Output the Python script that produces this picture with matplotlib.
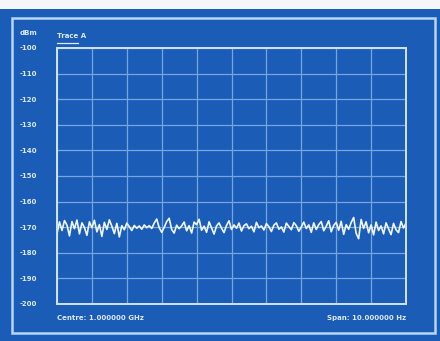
#!/usr/bin/env python3
# -*- coding: utf-8 -*-

"""
Ecran d'analyseur de spectre : trace de bruit autour de -170 dBm.
"""

import numpy as np
import matplotlib
matplotlib.use("Agg")
import matplotlib.pyplot as plt
from matplotlib.patches import Rectangle

# Donnees
niveaux = [
    -172.5, -167.9, -171.3, -167.4, -169.2, -173.4, -167.8, -170.6, -167.2, -172.6,
    -168.3, -170.1, -173.2, -167.9, -170.2, -167.3, -171.8, -169.0, -173.6, -168.1,
    -170.9, -167.1, -169.6, -172.5, -168.5, -173.8, -169.4, -171.0, -168.4, -169.8,
    -171.3, -169.3, -170.4, -169.5, -170.8, -169.1, -170.2, -169.4, -170.5, -168.4,
    -166.8, -170.2, -172.0, -170.1, -167.8, -166.5, -170.9, -172.3, -169.2, -170.6,
    -169.5, -168.0, -171.4, -169.4, -172.3, -168.0, -169.0, -166.9, -171.2, -169.6,
    -172.0, -167.9, -170.3, -172.7, -169.5, -168.3, -170.4, -172.1, -169.3, -167.5,
    -170.9, -169.1, -170.4, -168.4, -171.5, -169.4, -168.7, -170.6, -169.6, -171.8,
    -168.1, -170.2, -169.5, -171.1, -168.6, -169.8, -171.7, -169.2, -168.3, -170.8,
    -169.9, -171.9, -168.4, -169.7, -171.0, -168.2, -169.4, -171.6, -169.9, -168.0,
    -170.5, -169.1, -172.0, -168.3, -170.9, -169.0, -167.8, -171.4, -169.6, -167.5,
    -171.8, -169.3, -168.1, -171.2, -167.7, -172.8, -169.0, -170.8, -168.2, -166.2,
    -172.4, -174.5, -167.0, -170.5, -167.9, -172.2, -169.1, -173.0, -168.0, -171.3,
    -169.5, -172.6, -168.3, -170.6, -172.9, -168.5, -171.0, -172.1, -167.8, -170.3,
    -168.4,
]
frequences = np.linspace(-5.0, 5.0, len(niveaux))
graduations_y = [-100, -110, -120, -130, -140, -150, -160, -170, -180, -190, -200]
etiquettes_y = ["-100", "-110", "-120", "-130", "-140", "-150", "-160",
                "-170", "-180", "-190", "-200"]
graduations_x = np.arange(-5, 6, 1)

fond = "#1a5cb6"
texte = "#dbe9fb"
grille = "#75a6e0"

fig = plt.figure(figsize=(4.4, 3.41), dpi=100, facecolor=fond)

# bande blanche en haut de la photo et cadre exterieur
fig.patches.append(Rectangle((0, 1 - 9 / 341), 1, 9 / 341, transform=fig.transFigure,
                             facecolor="#f4f6f8", edgecolor="none", zorder=0))
fig.patches.append(Rectangle((12 / 440, 8 / 341), 423 / 440, 315 / 341,
                             transform=fig.transFigure, facecolor="none",
                             edgecolor="#b9d5f7", linewidth=1.8, zorder=1))

ax = fig.add_axes([57 / 440, 37 / 341, 349 / 440, 256 / 341])
ax.set_facecolor(fond)
ax.plot(frequences, niveaux, color="#eef5ff", linewidth=1.2)

ax.set_xlim(-5, 5)
ax.set_ylim(-200, -100)
ax.set_xticks(graduations_x)
ax.set_xticklabels([])
ax.set_yticks(graduations_y)
ax.set_yticklabels(etiquettes_y, ha="left", color=texte, fontsize=5,
                   fontweight="bold")
ax.tick_params(length=0, pad=27)
ax.grid(True, color=grille, linewidth=0.9)
for s in ax.spines.values():
    s.set_color("#d2e4fa")
    s.set_linewidth(1.4)

fig.text(20 / 440, 1 - 33 / 341, "dBm", color=texte, fontsize=5, va="center",
         fontweight="bold")
fig.text(57 / 440, 1 - 36 / 341, "Trace A", color=texte, fontsize=5, va="center",
         fontweight="bold")
fig.lines.append(plt.Line2D([57 / 440, 78 / 440], [1 - 43 / 341, 1 - 43 / 341],
                            transform=fig.transFigure, color=texte, linewidth=0.9))
fig.text(57 / 440, 1 - 318 / 341, "Centre: 1.000000 GHz", color=texte, fontsize=5,
         va="center", fontweight="bold")
fig.text(406 / 440, 1 - 318 / 341, "Span: 10.000000 Hz", color=texte, fontsize=5,
         va="center", ha="right", fontweight="bold")

fig.savefig("out.png", dpi=100, facecolor=fond)
